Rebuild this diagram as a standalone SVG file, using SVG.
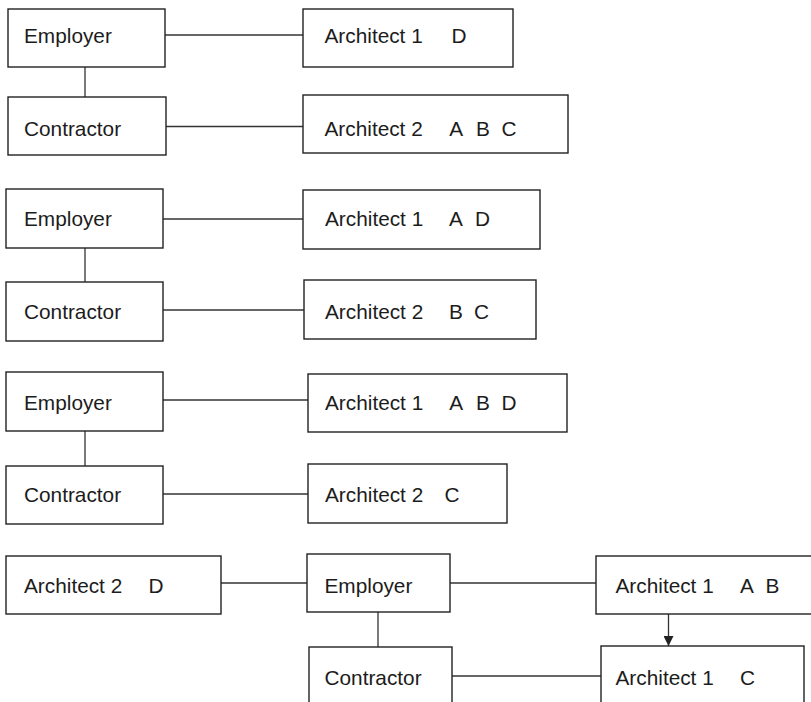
<svg xmlns="http://www.w3.org/2000/svg" width="811" height="702" viewBox="0 0 811 702">
  <style>
    .box { fill: #ffffff; stroke: #222222; stroke-width: 1.4; }
    .lbl { font-family: "Liberation Sans", Arial, sans-serif; font-size: 20.8px; fill: #1c1c1c; }
    .link { stroke: #333333; stroke-width: 1.3; fill: none; }
  </style>
  <defs>
    <marker id="arrow" viewBox="0 0 10 10" refX="10" refY="5" markerWidth="10" markerHeight="10" markerUnits="userSpaceOnUse" orient="auto">
      <path d="M0,0 L10,5 L0,10 Z" fill="#222222"/>
    </marker>
  </defs>
  <rect width="811" height="702" fill="#ffffff"/>

  <g id="connectors">
    <!-- scheme 1 -->
    <line class="link" x1="165" y1="35" x2="303" y2="35"/>
    <line class="link" x1="85" y1="67" x2="85" y2="97"/>
    <line class="link" x1="166" y1="126.5" x2="303" y2="126.5"/>
    <!-- scheme 2 -->
    <line class="link" x1="163" y1="219" x2="303" y2="219"/>
    <line class="link" x1="85" y1="248" x2="85" y2="282"/>
    <line class="link" x1="163" y1="310" x2="304" y2="310"/>
    <!-- scheme 3 -->
    <line class="link" x1="163" y1="400" x2="308" y2="400"/>
    <line class="link" x1="85" y1="431" x2="85" y2="466"/>
    <line class="link" x1="163" y1="494" x2="308" y2="494"/>
    <!-- scheme 4 -->
    <line class="link" x1="221" y1="583" x2="307" y2="583"/>
    <line class="link" x1="450" y1="583" x2="596" y2="583"/>
    <line class="link" x1="378" y1="612" x2="378" y2="647"/>
    <line class="link" x1="452" y1="676" x2="601" y2="676"/>
    <line class="link" x1="668.5" y1="614" x2="668.5" y2="646" marker-end="url(#arrow)"/>
  </g>

  <!-- scheme 1 -->
  <g id="s1-employer">
    <rect class="box" x="8" y="9" width="157" height="58"/>
    <text class="lbl" x="24" y="43">Employer</text>
  </g>
  <g id="s1-contractor">
    <rect class="box" x="8" y="97" width="158" height="58"/>
    <text class="lbl" x="24" y="136">Contractor</text>
  </g>
  <g id="s1-architect1">
    <rect class="box" x="303" y="9" width="210" height="58"/>
    <text class="lbl" x="324.5" y="43">Architect 1<tspan x="451.5">D</tspan></text>
  </g>
  <g id="s1-architect2">
    <rect class="box" x="303" y="95" width="265" height="58"/>
    <text class="lbl" x="324.5" y="136">Architect 2<tspan x="449.3">A</tspan><tspan x="476">B</tspan><tspan x="501.5">C</tspan></text>
  </g>

  <!-- scheme 2 -->
  <g id="s2-employer">
    <rect class="box" x="6" y="189" width="157" height="59"/>
    <text class="lbl" x="24" y="226">Employer</text>
  </g>
  <g id="s2-contractor">
    <rect class="box" x="6" y="282" width="157" height="59"/>
    <text class="lbl" x="24" y="318.5">Contractor</text>
  </g>
  <g id="s2-architect1">
    <rect class="box" x="303" y="190" width="237" height="59"/>
    <text class="lbl" x="325" y="226">Architect 1<tspan x="449">A</tspan><tspan x="475">D</tspan></text>
  </g>
  <g id="s2-architect2">
    <rect class="box" x="304" y="280" width="232" height="59"/>
    <text class="lbl" x="325" y="318.5">Architect 2<tspan x="449">B</tspan><tspan x="474">C</tspan></text>
  </g>

  <!-- scheme 3 -->
  <g id="s3-employer">
    <rect class="box" x="6" y="372" width="157" height="59"/>
    <text class="lbl" x="24" y="410">Employer</text>
  </g>
  <g id="s3-contractor">
    <rect class="box" x="6" y="466" width="157" height="58"/>
    <text class="lbl" x="24" y="502">Contractor</text>
  </g>
  <g id="s3-architect1">
    <rect class="box" x="308" y="374" width="259" height="58"/>
    <text class="lbl" x="325" y="410">Architect 1<tspan x="449.3">A</tspan><tspan x="476">B</tspan><tspan x="501.5">D</tspan></text>
  </g>
  <g id="s3-architect2">
    <rect class="box" x="308" y="464" width="199" height="59"/>
    <text class="lbl" x="325" y="502">Architect 2<tspan x="444.5">C</tspan></text>
  </g>

  <!-- scheme 4 -->
  <g id="s4-architect2">
    <rect class="box" x="6" y="556" width="215" height="58"/>
    <text class="lbl" x="24" y="593">Architect 2<tspan x="148.5">D</tspan></text>
  </g>
  <g id="s4-employer">
    <rect class="box" x="307" y="554" width="143" height="58"/>
    <text class="lbl" x="324.5" y="593">Employer</text>
  </g>
  <g id="s4-contractor">
    <rect class="box" x="309" y="647" width="143" height="70"/>
    <text class="lbl" x="324.5" y="685">Contractor</text>
  </g>
  <g id="s4-architect1-ab">
    <rect class="box" x="596" y="556" width="230" height="58"/>
    <text class="lbl" x="615.5" y="593">Architect 1<tspan x="740">A</tspan><tspan x="765.5">B</tspan></text>
  </g>
  <g id="s4-architect1-c">
    <rect class="box" x="601" y="646" width="203" height="70"/>
    <text class="lbl" x="615.5" y="685">Architect 1<tspan x="740">C</tspan></text>
  </g>
</svg>
